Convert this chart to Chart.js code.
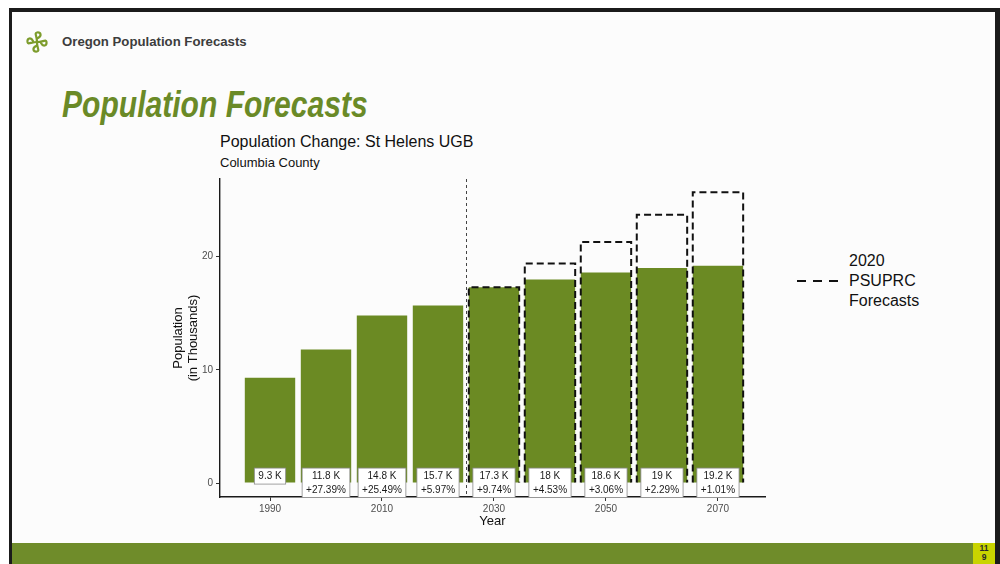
<!DOCTYPE html>
<html>
<head>
<meta charset="utf-8">
<script src="https://cdn.jsdelivr.net/npm/chart.js@4/dist/chart.umd.min.js"></script>
<style>
  html,body{margin:0;padding:0;}
  body{width:1000px;height:564px;position:relative;overflow:hidden;background:#ffffff;font-family:"Liberation Sans",Arial,sans-serif;}
  .abs{position:absolute;}
  #frameTop{left:9px;top:8px;width:991px;height:4px;background:#1b1b1b;}
  #frameLeft{left:9px;top:8px;width:3px;height:556px;background:#1b1b1b;}
  #frameRight{left:995px;top:8px;width:5px;height:556px;background:#1b1b1b;}
  #slide{left:12px;top:12px;width:983px;height:531px;background:#fcfcfc;}
  #footer{left:12px;top:543px;width:961px;height:21px;background:#6f8c2a;}
  #pageNo{left:973px;top:543px;width:22px;height:21px;background:#c9d400;color:#2a2a2a;font-weight:bold;font-size:8.5px;line-height:9px;text-align:center;padding-top:1px;box-sizing:border-box;}
  #header{left:62px;top:34px;font-size:13.2px;line-height:16px;font-weight:bold;color:#3d3d3d;white-space:nowrap;}
  #bigTitle{left:62px;top:87px;font-size:36px;line-height:36px;font-weight:bold;font-style:italic;color:#6a8a27;white-space:nowrap;transform:scaleX(0.835);transform-origin:left top;}
  #chartTitle{left:220px;top:134px;font-size:16px;line-height:16px;color:#111;white-space:nowrap;}
  #chartSub{left:220px;top:156px;font-size:13px;line-height:13px;color:#111;white-space:nowrap;}
  #legendText{left:849px;top:251px;font-size:16px;line-height:20px;color:#111;white-space:nowrap;}
  #legendLine{left:795px;top:276px;}
  #logo{left:25px;top:30px;}
  #chartBox{left:160px;top:170px;width:620px;height:365px;}
</style>
</head>
<body>
<div class="abs" id="slide"></div>
<div class="abs" id="frameTop"></div>
<div class="abs" id="frameLeft"></div>
<div class="abs" id="frameRight"></div>
<div class="abs" id="footer"></div>
<div class="abs" id="pageNo">11<br>9</div>

<svg class="abs" id="logo" width="24" height="24" viewBox="0 0 24 24">
  <g fill="none" stroke="#7d9c2c" stroke-width="2.2" stroke-linecap="round">
    <path d="M12 12 C12 6 9 3 12 2.5 C16 2 17 6 13 8"/>
    <path d="M12 12 C18 12 21 9 21.5 12 C22 16 18 17 16 13"/>
    <path d="M12 12 C12 18 15 21 12 21.5 C8 22 7 18 11 16"/>
    <path d="M12 12 C6 12 3 15 2.5 12 C2 8 6 7 8 11"/>
  </g>
</svg>
<div class="abs" id="header">Oregon Population Forecasts</div>
<div class="abs" id="bigTitle">Population Forecasts</div>
<div class="abs" id="chartTitle">Population Change: St Helens UGB</div>
<div class="abs" id="chartSub">Columbia County</div>

<svg class="abs" id="legendLine" width="50" height="10">
  <line x1="2" y1="5" x2="43" y2="5" stroke="#111" stroke-width="2" stroke-dasharray="9,7"/>
</svg>
<div class="abs" id="legendText">2020<br>PSUPRC<br>Forecasts</div>

<div class="abs" id="chartBox"><canvas id="c" width="620" height="365"></canvas></div>

<script>
// ---- data ----
const years = [1990, 2000, 2010, 2020, 2030, 2040, 2050, 2060, 2070];
const population = [9.3, 11.8, 14.8, 15.7, 17.3, 18, 18.6, 19, 19.2];
const valueLabels = ['9.3 K', '11.8 K', '14.8 K', '15.7 K', '17.3 K', '18 K', '18.6 K', '19 K', '19.2 K'];
const changeLabels = ['', '+27.39%', '+25.49%', '+5.97%', '+9.74%', '+4.53%', '+3.06%', '+2.29%', '+1.01%'];
const forecastYears = [2030, 2040, 2050, 2060, 2070];
const forecast2020 = [17.3, 19.4, 21.3, 23.7, 25.7];
const xTickYears = [1990, 2010, 2030, 2050, 2070];
const yTicks = [0, 10, 20];
const forecastStartYear = 2025;

const barGreen = '#6b8a23';
const fontFam = '"Liberation Sans", Arial, sans-serif';
const labelFont = '10px ' + fontFam;

const overlayPlugin = {
  id: 'overlay',
  afterDatasetsDraw(chart) {
    const ctx = chart.ctx;
    const xs = chart.scales.x, ys = chart.scales.y;
    const area = chart.chartArea;

    // dashed forecast outlines
    const meta = chart.getDatasetMeta(1);
    ctx.save();
    ctx.strokeStyle = '#111';
    ctx.lineWidth = 2;
    ctx.setLineDash([7, 4]);
    meta.data.forEach(el => {
      const p = el.getProps(['x', 'y', 'base', 'width'], true);
      const l = p.x - p.width / 2, r = p.x + p.width / 2;
      ctx.beginPath();
      ctx.moveTo(l, p.base);
      ctx.lineTo(l, p.y);
      ctx.lineTo(r, p.y);
      ctx.lineTo(r, p.base);
      ctx.stroke();
    });
    ctx.restore();

    // vertical forecast-start line
    const vx = Math.round(xs.getPixelForValue(forecastStartYear)) + 0.5;
    ctx.save();
    ctx.strokeStyle = '#444';
    ctx.lineWidth = 1;
    ctx.setLineDash([3, 3]);
    ctx.beginPath();
    ctx.moveTo(vx, area.top);
    ctx.lineTo(vx, area.bottom);
    ctx.stroke();
    ctx.restore();

    // value / change labels
    const y0 = ys.getPixelForValue(0);
    ctx.save();
    ctx.font = labelFont;
    ctx.textAlign = 'center';
    ctx.textBaseline = 'middle';
    years.forEach((yr, i) => {
      const cx = xs.getPixelForValue(yr);
      const l1 = valueLabels[i], l2 = changeLabels[i];
      const w = Math.max(ctx.measureText(l1).width, l2 ? ctx.measureText(l2).width : 0) + 8;
      const h = l2 ? 29.5 : 16;
      const top = y0 - 15;
      ctx.fillStyle = '#ffffff';
      ctx.fillRect(cx - w / 2, top, w, h);
      ctx.strokeStyle = '#8a8a8a';
      ctx.lineWidth = 0.8;
      ctx.strokeRect(cx - w / 2, top, w, h);
      ctx.fillStyle = '#1a1a1a';
      ctx.fillText(l1, cx, top + 8);
      if (l2) ctx.fillText(l2, cx, top + 22.5);
    });
    ctx.restore();
  }
};

new Chart(document.getElementById('c'), {
  type: 'bar',
  data: {
    datasets: [
      {
        label: 'Population',
        data: years.map((y, i) => ({ x: y, y: population[i] })),
        backgroundColor: barGreen,
        borderWidth: 0,
        grouped: false,
        barPercentage: 0.9,
        categoryPercentage: 1.0,
        order: 2
      },
      {
        label: '2020 PSUPRC Forecasts',
        data: forecastYears.map((y, i) => ({ x: y, y: forecast2020[i] })),
        backgroundColor: 'rgba(0,0,0,0)',
        borderWidth: 0,
        grouped: false,
        barPercentage: 0.9,
        categoryPercentage: 1.0,
        order: 1
      }
    ]
  },
  options: {
    responsive: false,
    animation: false,
    devicePixelRatio: window.devicePixelRatio || 1,
    layout: { padding: { top: 8, right: 15, left: 0, bottom: 0 } },
    plugins: { legend: { display: false }, tooltip: { enabled: false }, title: { display: false } },
    scales: {
      x: {
        type: 'linear',
        offset: false,
        min: 1981.07,
        max: 2078.4,
        afterBuildTicks(s) { s.ticks = xTickYears.map(v => ({ value: v })); },
        afterFit(s) { s.height = 38; },
        ticks: {
          callback: v => String(v),
          color: '#4d4d4d',
          font: { size: 10, family: fontFam },
          padding: 2,
          maxRotation: 0,
          autoSkip: false
        },
        grid: { offset: false, drawOnChartArea: false, drawTicks: true, tickLength: 4, color: '#333' },
        border: { display: true, color: '#1a1a1a', width: 1.4 },
        title: {
          display: true, text: 'Year', color: '#111',
          font: { size: 13, family: fontFam },
          padding: { top: 0, bottom: 6 }
        }
      },
      y: {
        type: 'linear',
        min: -1.23,
        max: 26.87,
        afterBuildTicks(s) { s.ticks = yTicks.map(v => ({ value: v })); },
        afterFit(s) { s.width = 60; },
        ticks: {
          callback: v => String(v),
          color: '#4d4d4d',
          font: { size: 10, family: fontFam },
          padding: 3
        },
        grid: { drawOnChartArea: false, drawTicks: true, tickLength: 4, color: '#333' },
        border: { display: true, color: '#1a1a1a', width: 1.4 },
        title: {
          display: true, text: ['Population', '(in Thousands)'], color: '#111',
          font: { size: 13, lineHeight: 1.15, family: fontFam },
          padding: { top: 10.5, bottom: 0 }
        }
      }
    }
  },
  plugins: [overlayPlugin]
});
</script>
</body>
</html>
